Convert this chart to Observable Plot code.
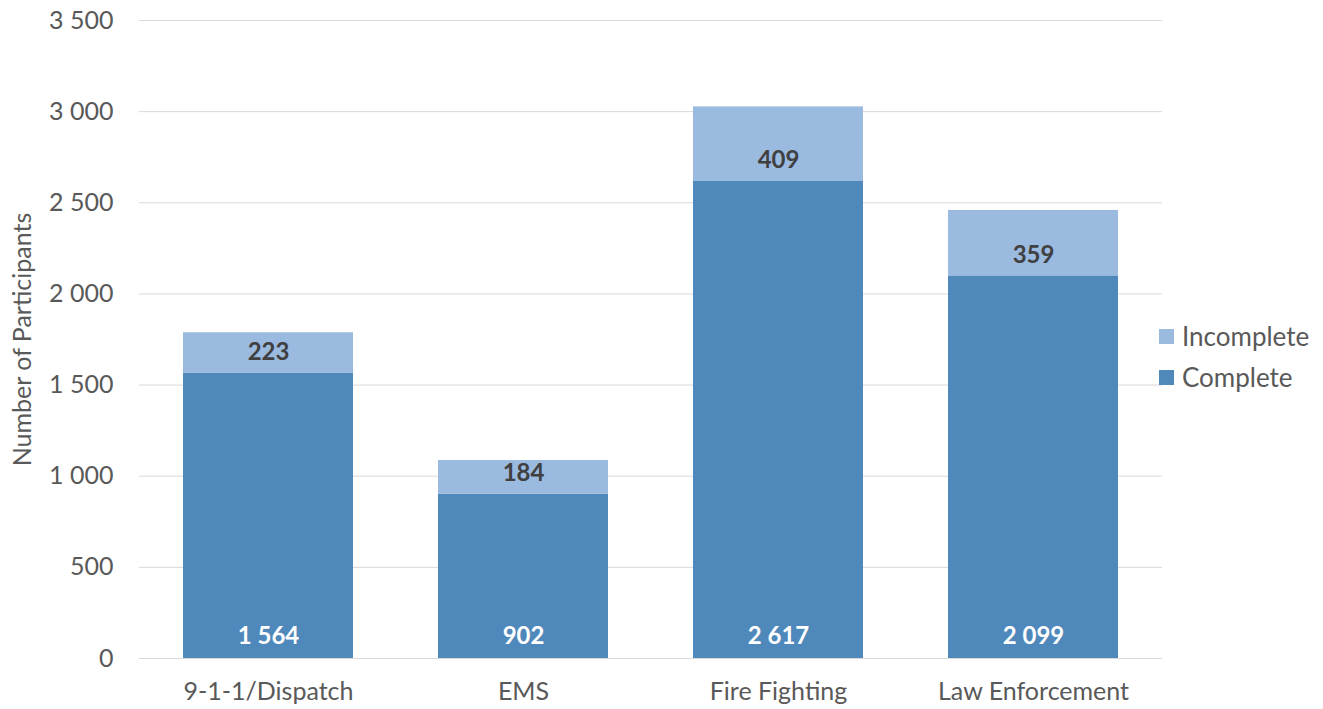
<!DOCTYPE html>
<html>
<head>
<meta charset="utf-8">
<script src="https://cdn.jsdelivr.net/npm/d3@7"></script>
<script src="https://cdn.jsdelivr.net/npm/@observablehq/plot@0.6"></script>
<style>
  html, body { margin: 0; padding: 0; background: #fff; }
  #wrap { position: relative; width: 1323px; height: 709px; font-family: Lato, "Open Sans", sans-serif; }
  #legend { position: absolute; left: 1159px; top: 316px; font-size: 26px; color: #595959; line-height: 41px; }
  #legend .item { display: flex; align-items: center; }
  #legend .sw { width: 15px; height: 15px; margin-right: 8px; }
</style>
</head>
<body>
<div id="wrap"><div id="chart"></div><div id="legend"></div></div>
<script>
const categories = ["9-1-1/Dispatch", "EMS", "Fire Fighting", "Law Enforcement"];
const complete = [1564, 902, 2617, 2099];
const incomplete = [223, 184, 409, 359];
const seriesNames = ["Complete", "Incomplete"];
const seriesColors = ["#4f88bb", "#9bbae0"];
const yTicks = [0, 500, 1000, 1500, 2000, 2500, 3000, 3500];

const fmt = d3.formatLocale({decimal: ".", thousands: " ", grouping: [3], currency: ["", ""]}).format(",d");

const rows = [];
categories.forEach((c, i) => {
  rows.push({category: c, series: "Complete", value: complete[i]});
  rows.push({category: c, series: "Incomplete", value: incomplete[i]});
});
const compRows = rows.filter(d => d.series === "Complete");
// incomplete labels sit just above the top of the complete segment
const incRows = rows.filter(d => d.series === "Incomplete").map(d => ({
  ...d, base: complete[categories.indexOf(d.category)]
}));

const chart = Plot.plot({
  width: 1323,
  height: 709,
  marginLeft: 139,
  marginRight: 161,
  marginTop: 20,
  marginBottom: 51,
  style: {fontFamily: "Lato, 'Open Sans', sans-serif", fontSize: "25px", color: "#595959", background: "#fff"},
  x: {domain: categories, paddingInner: 0.335, paddingOuter: 0.1675, label: null},
  y: {domain: [0, 3500], ticks: yTicks, label: null},
  color: {domain: seriesNames, range: seriesColors},
  marks: [
    Plot.gridY(yTicks, {stroke: "#d9d9d9", strokeOpacity: 1, strokeWidth: 1}),
    Plot.barY(rows, Plot.stackY({x: "category", y: "value", fill: "series", order: seriesNames})),
    Plot.text(compRows, {x: "category", y: 0, text: d => fmt(d.value), dy: -22, fill: "#fff", fontWeight: "bold", fontSize: 24}),
    Plot.text(incRows, {x: "category", y: "base", text: d => fmt(d.value), dy: -21, fill: "#404040", fontWeight: "bold", fontSize: 24}),
    Plot.axisY(yTicks, {tickSize: 0, tickPadding: 26, tickFormat: fmt, fontSize: 25, label: "Number of Participants", labelAnchor: "center", labelOffset: 126, labelArrow: "none"}),
    Plot.axisX({tickSize: 0, tickPadding: 24, fontSize: 25, label: null})
  ]
});
document.getElementById("chart").appendChild(chart);

const legend = document.getElementById("legend");
[1, 0].forEach(i => {
  const item = document.createElement("div");
  item.className = "item";
  const sw = document.createElement("span");
  sw.className = "sw";
  sw.style.background = seriesColors[i];
  const t = document.createElement("span");
  t.textContent = seriesNames[i];
  item.appendChild(sw);
  item.appendChild(t);
  legend.appendChild(item);
});
</script>
</body>
</html>
